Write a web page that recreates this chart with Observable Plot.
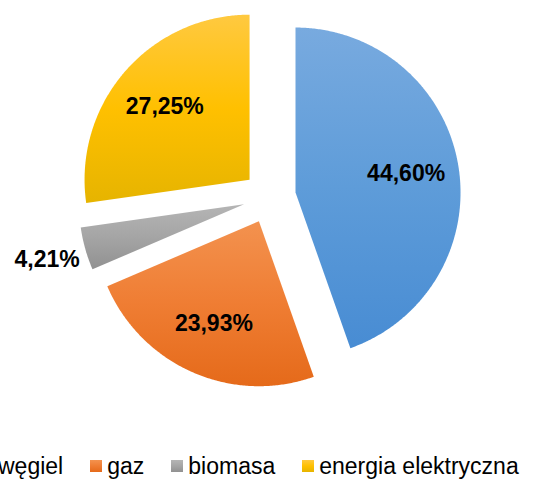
<!DOCTYPE html>
<html><head><meta charset="utf-8">
<script src="https://cdn.jsdelivr.net/npm/d3@7"></script>
<script src="https://cdn.jsdelivr.net/npm/@observablehq/plot@0.6"></script>
<style>
html,body{margin:0;padding:0;background:#fff;overflow:hidden;width:536px;height:479px;}
#chart{position:absolute;left:0;top:0;}
#legend{position:absolute;top:453px;left:-19px;white-space:nowrap;font-family:"Liberation Sans",Arial,sans-serif;font-size:23px;color:#000;}
.item{display:inline-block;margin-right:27px;}
.sw{display:inline-block;width:12px;height:12px;margin-right:5px;vertical-align:2px;}
</style></head><body>
<div id="chart"></div><div id="legend"></div>
<script>
// ---- data ----
const categories = ["węgiel", "gaz", "biomasa", "energia elektryczna"];
const shares = [44.60, 23.93, 4.21, 27.25];
const labels = ["44,60%", "23,93%", "4,21%", "27,25%"];
// ---- styles ----
const colorTop = ["#78aadf", "#f3924f", "#b5b5b5", "#ffc940"];
const colorMid = ["#5e9cd9", "#ef7d33", "#a5a5a5", "#ffc000"];
const colorBottom = ["#488cd3", "#e56a1a", "#919191", "#e6b400"];

const explode = 0.16;
const W = 536, H = 452;
const R = 165, cx = 269, cy = 196.5;

const pie = d3.pie().sort(null).startAngle(0).endAngle(2 * Math.PI)(shares);

const pts = [];
const labs = [];
pie.forEach((a, i) => {
  const mid = (a.startAngle + a.endAngle) / 2;
  const ox = explode * Math.sin(mid), oy = explode * Math.cos(mid);
  pts.push({cat: categories[i], x: ox, y: oy});
  const steps = Math.max(2, Math.ceil((a.endAngle - a.startAngle) / (Math.PI / 360)));
  for (let k = 0; k <= steps; k++) {
    const t = a.startAngle + (a.endAngle - a.startAngle) * k / steps;
    pts.push({cat: categories[i], x: ox + Math.sin(t), y: oy + Math.cos(t)});
  }
  const r = shares[i] < 10 ? 1.24 : 0.68;
  labs.push({label: labels[i], x: ox + r * Math.sin(mid), y: oy + r * Math.cos(mid)});
});

const chart = Plot.plot({
  width: W, height: H,
  margin: 0,
  x: {domain: [-cx / R, (W - cx) / R], axis: null},
  y: {domain: [(cy - H) / R, cy / R], axis: null},
  color: {domain: categories, range: categories.map((c, i) => `url(#grad${i})`)},
  style: {fontFamily: "'Liberation Sans', Arial, sans-serif", background: "#fff"},
  marks: [
    Plot.line(pts, {x: "x", y: "y", z: "cat", fill: "cat", stroke: null, curve: "linear-closed"}),
    Plot.text(labs, {x: "x", y: "y", text: "label", fontSize: 23, fontWeight: "bold", fill: "#000"})
  ]
});

const ns = "http://www.w3.org/2000/svg";
const defs = document.createElementNS(ns, "defs");
categories.forEach((c, i) => {
  const g = document.createElementNS(ns, "linearGradient");
  g.setAttribute("id", `grad${i}`);
  g.setAttribute("x1", "0"); g.setAttribute("y1", "0");
  g.setAttribute("x2", "0"); g.setAttribute("y2", "1");
  [[0, colorTop[i]], [0.5, colorMid[i]], [1, colorBottom[i]]].forEach(([o, col]) => {
    const s = document.createElementNS(ns, "stop");
    s.setAttribute("offset", o);
    s.setAttribute("stop-color", col);
    g.appendChild(s);
  });
  defs.appendChild(g);
});
chart.insertBefore(defs, chart.firstChild);
document.getElementById("chart").appendChild(chart);

const legend = document.getElementById("legend");
categories.forEach((c, i) => {
  const item = document.createElement("span");
  item.className = "item";
  const sw = document.createElement("span");
  sw.className = "sw";
  sw.style.background = `linear-gradient(${colorTop[i]}, ${colorMid[i]}, ${colorBottom[i]})`;
  item.appendChild(sw);
  item.appendChild(document.createTextNode(c));
  legend.appendChild(item);
});
</script>
</body></html>
